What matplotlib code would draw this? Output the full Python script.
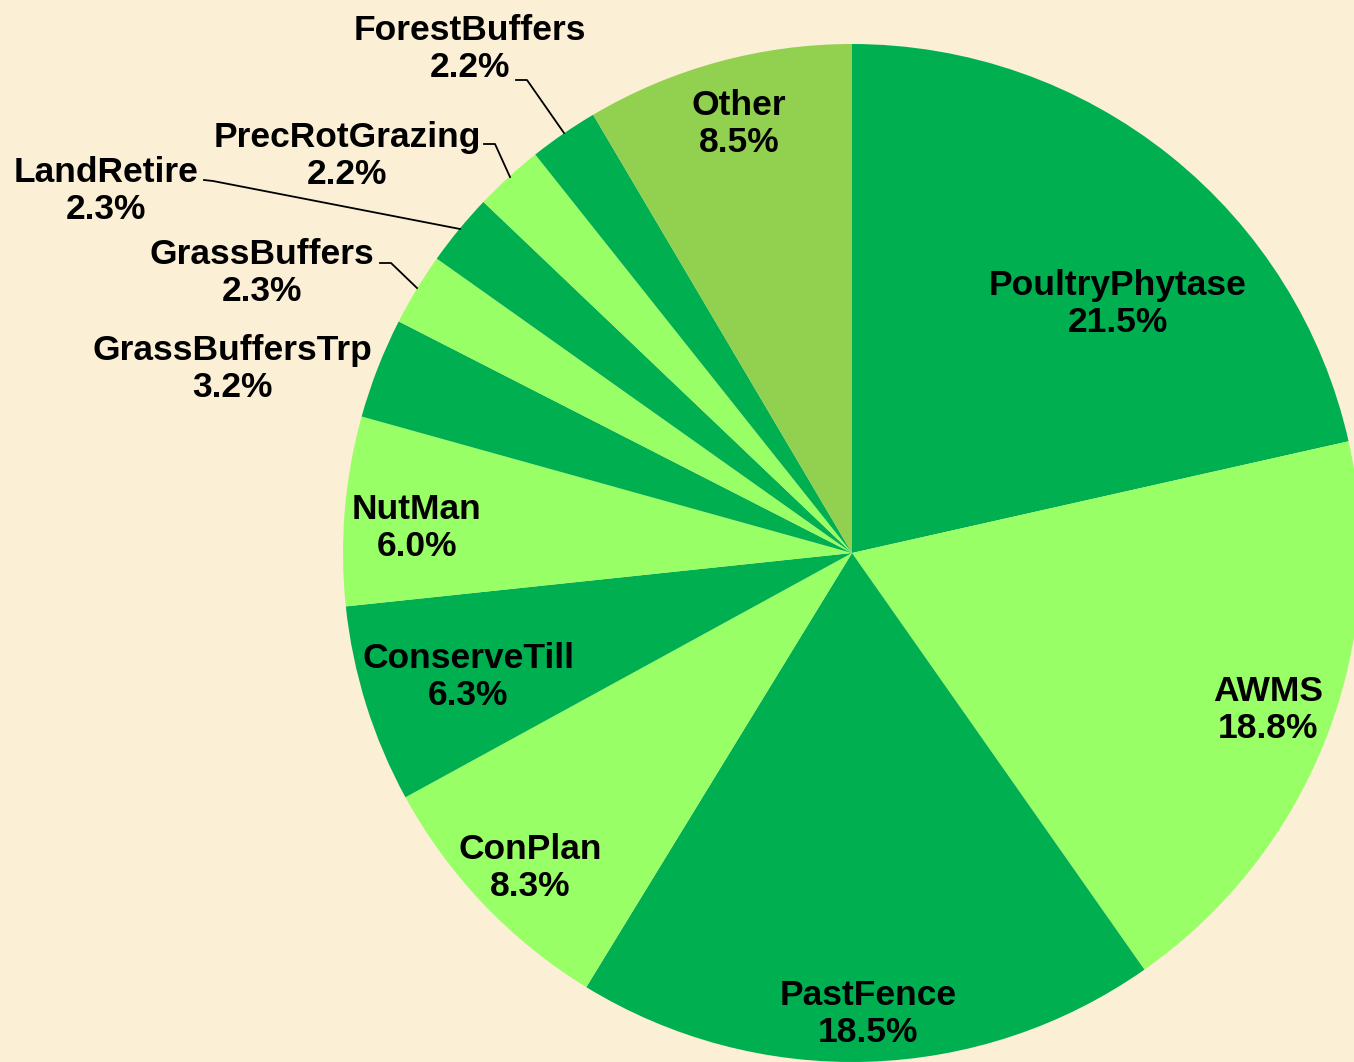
import matplotlib.pyplot as plt

# slice data (clockwise from 12 o'clock)
labels = ['PoultryPhytase', 'AWMS', 'PastFence', 'ConPlan', 'ConserveTill',
          'NutMan', 'GrassBuffersTrp', 'GrassBuffers', 'LandRetire',
          'PrecRotGrazing', 'ForestBuffers', 'Other']
shares = [21.5, 18.8, 18.5, 8.3, 6.3, 6.0, 3.2, 2.3, 2.3, 2.2, 2.2, 8.5]

dark = '#00B050'
light = '#99FF66'
colors = [dark, light, dark, light, dark, light, dark, light, dark, light, dark, '#92D050']

W, H = 1354, 1062

def px(x, y):
    # image pixel coords -> data coords (y up)
    return x, H - y

# label centres in pixel coords
label_pos = {
    'PoultryPhytase': (1118, 304),
    'AWMS': (1268, 710),
    'PastFence': (868, 1014),
    'ConPlan': (530, 868),
    'ConserveTill': (468, 677),
    'NutMan': (417, 528),
    'GrassBuffersTrp': (232, 369),
    'GrassBuffers': (262, 273),
    'LandRetire': (106, 191),
    'PrecRotGrazing': (347, 156),
    'ForestBuffers': (470, 49),
    'Other': (739, 124),
}

# leader lines (text end -> elbow -> slice edge)
leaders = {
    'GrassBuffers': [(380, 263), (391, 263), (417, 288)],
    'LandRetire': [(204, 180), (213, 181), (460, 229)],
    'PrecRotGrazing': [(484, 144), (495, 144), (510, 177)],
    'ForestBuffers': [(516, 80), (527, 80), (564, 133)],
}

fig = plt.figure(figsize=(W / 100, H / 100), dpi=100)
fig.patch.set_facecolor('#FBEFD5')
ax = fig.add_axes([0, 0, 1, 1])
ax.set_facecolor('#FBEFD5')

cx, cy = px(852, 553)
ax.pie(shares, colors=colors, startangle=90, counterclock=False,
       center=(cx, cy), radius=509,
       wedgeprops=dict(linewidth=0))

ax.set_xlim(0, W)
ax.set_ylim(0, H)
ax.set_aspect('equal')
ax.axis('off')

for name, val in zip(labels, shares):
    x, y = px(*label_pos[name])
    ax.text(x, y, f'{name}\n{val:.1f}%', ha='center', va='center',
            fontsize=25.5, fontweight='bold', family='Liberation Sans',
            linespacing=1.15, color='black')

for name, pts in leaders.items():
    xs = [p[0] for p in pts]
    ys = [H - p[1] for p in pts]
    ax.plot(xs, ys, color='black', linewidth=1.3)

fig.savefig('out.png', dpi=100, facecolor=fig.get_facecolor())
